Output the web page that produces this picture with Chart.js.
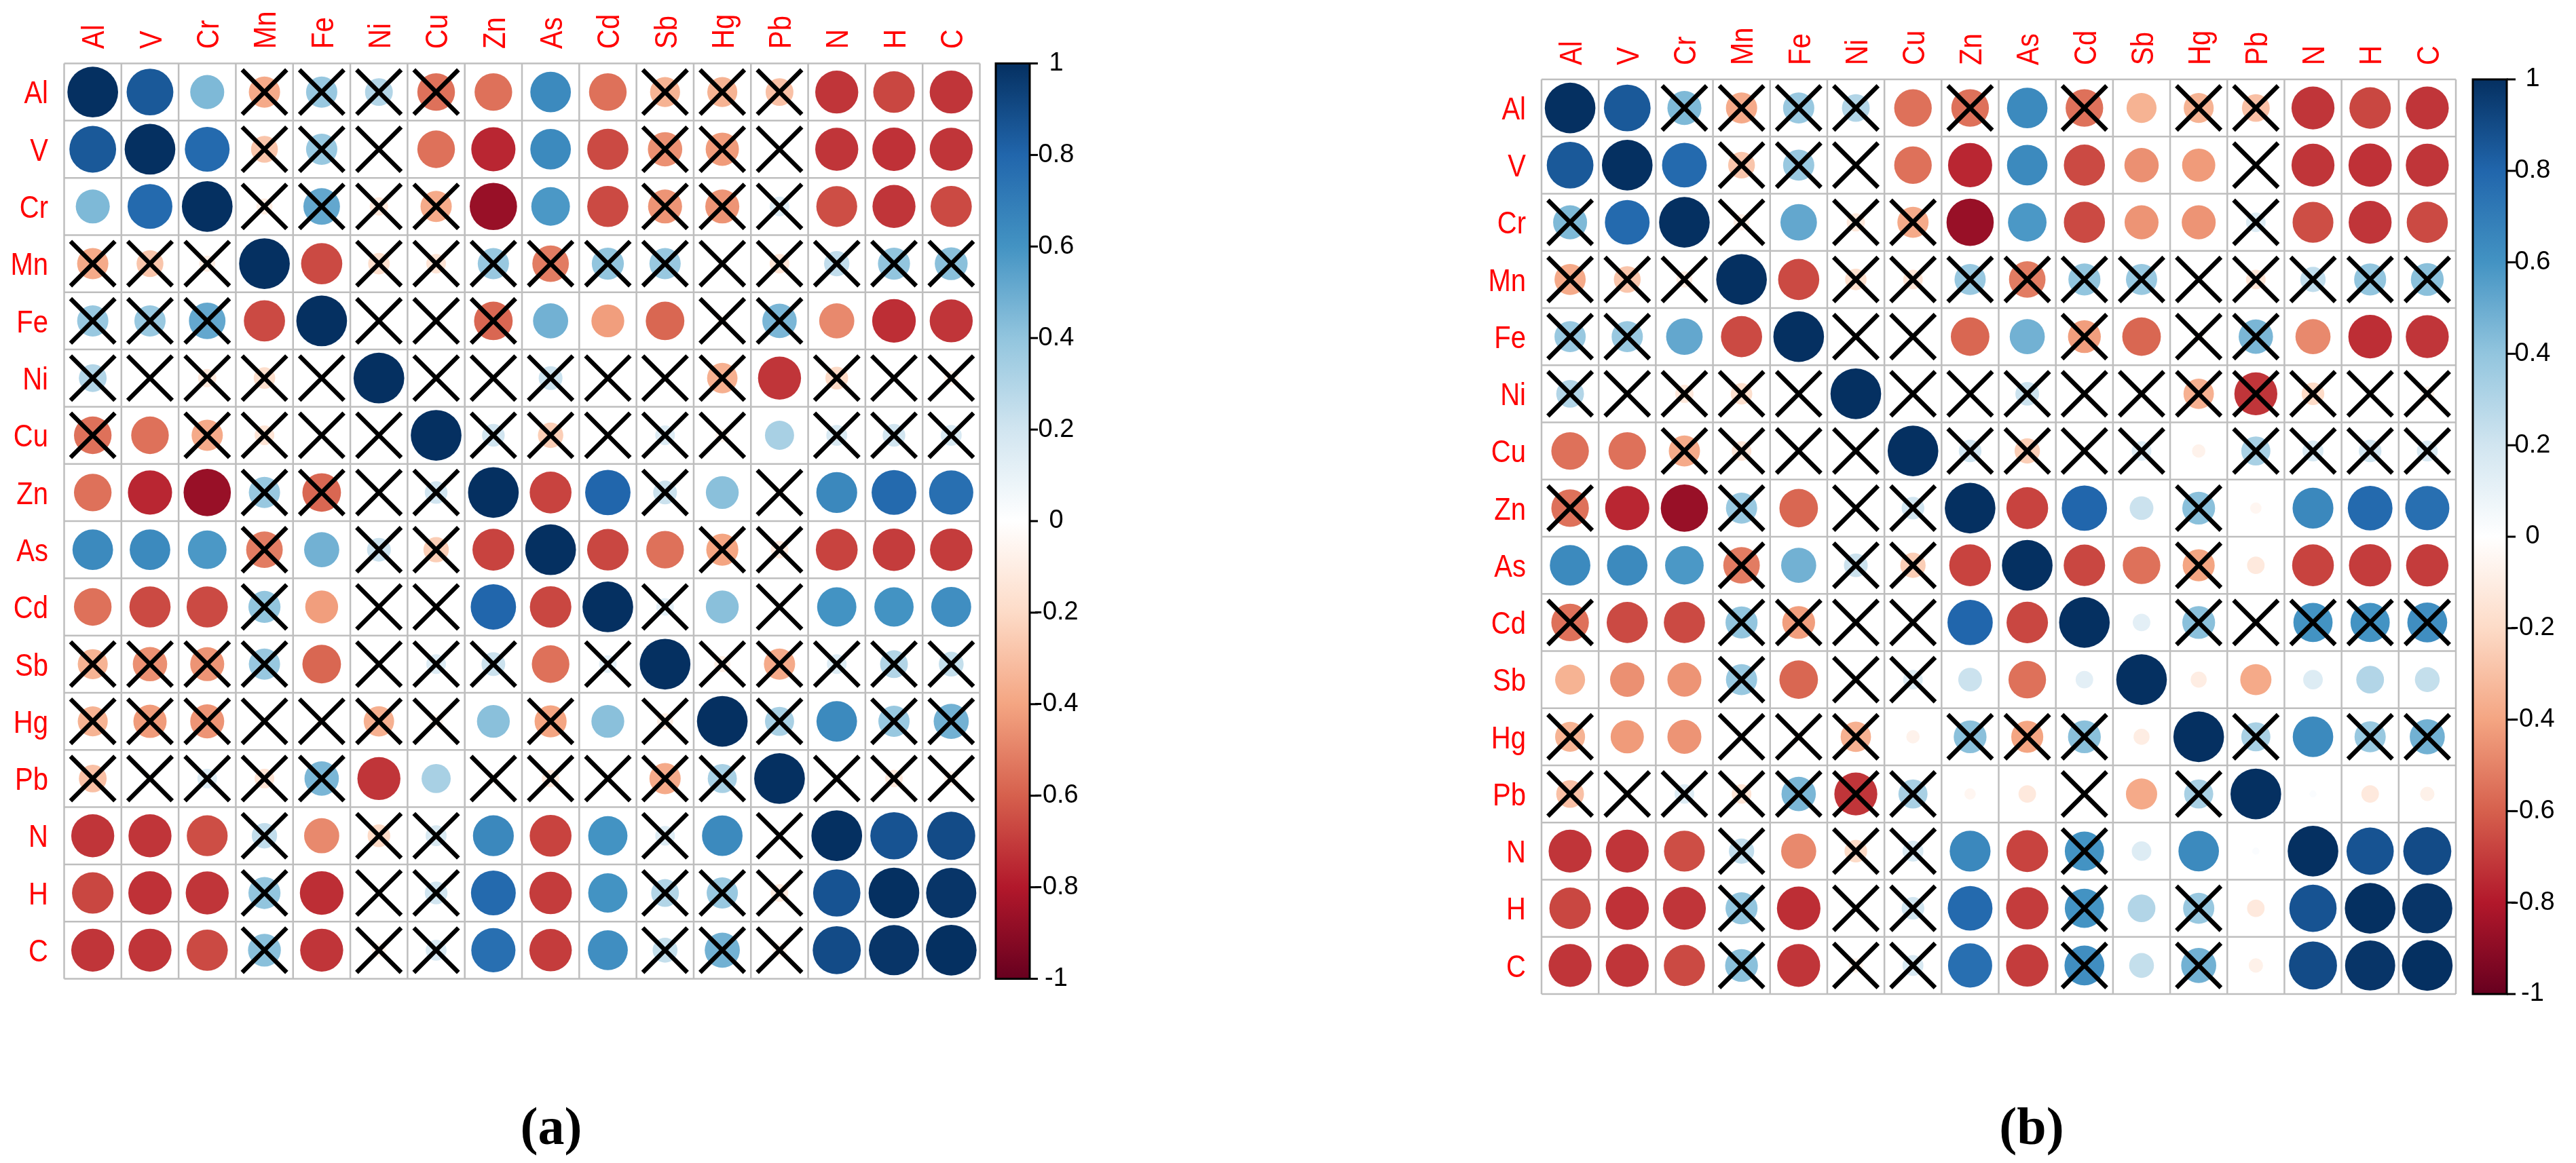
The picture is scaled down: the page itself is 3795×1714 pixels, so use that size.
<!DOCTYPE html>
<html><head><meta charset="utf-8">
<script src="https://cdn.jsdelivr.net/npm/chart.js@4/dist/chart.umd.min.js"></script>
<style>
html,body{margin:0;padding:0;background:#fff;}
#wrap{position:relative;width:3795px;height:1714px;overflow:hidden;background:#fff;}
canvas{position:absolute;left:0;top:0;}
</style></head><body>
<div id="wrap"><canvas id="ca" width="3795" height="1714"></canvas><canvas id="cb" width="3795" height="1714"></canvas></div>
<script>
// ---------- DATA ----------
const elements = ["Al","V","Cr","Mn","Fe","Ni","Cu","Zn","As","Cd","Sb","Hg","Pb","N","H","C"];
// upper-triangle correlation values, each row lists the columns after the diagonal
const rAl = [0.85, 0.45, -0.38, 0.38, 0.30, -0.55, -0.55, 0.64, -0.55, -0.35, -0.35, -0.30, -0.72, -0.67, -0.72];
const rV  = [0.78, -0.28, 0.38, 0.01, -0.55, -0.76, 0.64, -0.66, -0.46, -0.43, -0.03, -0.72, -0.73, -0.72];
const rCr = [-0.10, 0.52, -0.13, -0.38, -0.87, 0.58, -0.66, -0.45, -0.45, 0.15, -0.65, -0.72, -0.66];
const rMn = [-0.66, -0.18, -0.15, 0.38, -0.52, 0.40, 0.38, 0.01, -0.15, 0.25, 0.40, 0.42];
const rFe = [-0.02, -0.01, -0.58, 0.48, -0.42, -0.58, -0.05, 0.46, -0.48, -0.74, -0.72];
const rNi = [0.00, 0.00, 0.22, 0.00, 0.00, -0.36, -0.72, -0.20, 0.00, -0.08];
const rCu = [0.20, -0.25, 0.00, 0.15, -0.07, 0.33, 0.17, 0.20, 0.17];
const rZn = [-0.68, 0.80, 0.22, 0.42, -0.05, 0.65, 0.78, 0.76];
const rAs = [-0.67, -0.55, -0.40, -0.12, -0.68, -0.70, -0.70];
const rCd = [0.12, 0.42, 0.00, 0.60, 0.60, 0.62];
const rSb = [-0.10, -0.38, 0.15, 0.30, 0.24];
const rHg = [0.33, 0.64, 0.38, 0.48];
const rPb = [0.02, -0.12, -0.08];
const rN  = [0.87, 0.90];
const rH  = [0.98];
const upperRows = [rAl, rV, rCr, rMn, rFe, rNi, rCu, rZn, rAs, rCd, rSb, rHg, rPb, rN, rH, []];
// non-significant marks ('x'), upper triangle, panel (a)
const crossA = ["..xxxx...xxx...", ".xxx....xxx...", "xxxx...xxx...", ".xxxxxxxxxxx", "xxx...xx...",
  "xxxxxx.xxx", "xxxxx.xxx", "..x.x...", "..xx...", "x.x...", "xxxxx", "x.xx", "xxx", "..", ".", ""];
// panel (b)
const crossB = [".xxxx.x.x.xx...", ".xxx......x...", "x.xx.....x...", ".xxxxxxxxxxx", "xx..x.xx...",
  "xxxxxxxxxx", "xxxx.xxxx", "...x....", "..x....", ".xxxxx", ".....", "x.xx", "...", "..", ".", ""];
const legendValues = [1, 0.8, 0.6, 0.4, 0.2, 0, -0.2, -0.4, -0.6, -0.8, -1];
const legendLabels = ["1", "0.8", "0.6", "0.4", "0.2", "0", "-0.2", "-0.4", "-0.6", "-0.8", "-1"];
const panelTitles = ["(a)", "(b)"];
const paletteStops = ["#67001F","#B2182B","#D6604D","#F4A582","#FDDBC7","#FFFFFF","#D1E5F0","#92C5DE","#4393C3","#2166AC","#053061"];

// ---------- helpers ----------
const W = 3795, H = 1714;
function valueAt(i, j) { if (i === j) return 1; const a = Math.min(i, j), b = Math.max(i, j); return upperRows[a][b - a - 1]; }
function crossedAt(mask, i, j) { if (i === j) return false; const a = Math.min(i, j), b = Math.max(i, j); return mask[a][b - a - 1] === 'x'; }
function hexRgb(h) { return [parseInt(h.slice(1,3),16), parseInt(h.slice(3,5),16), parseInt(h.slice(5,7),16)]; }
const stopRgb = paletteStops.map(hexRgb);
function corrColor(v) {
  const t = (Math.max(-1, Math.min(1, v)) + 1) / 2 * 10;
  const k = Math.min(9, Math.floor(t)), f = t - k;
  const a = stopRgb[k], b = stopRgb[k + 1];
  return 'rgb(' + a.map((c, n) => Math.round(c + (b[n] - c) * f)).join(',') + ')';
}
function cellSize(chart) { const s = chart.scales.x; return Math.abs(s.getPixelForValue(1) - s.getPixelForValue(0)); }

const labelFont = 40, labelStretch = 1.17;

const panelPlugin = {
  id: 'panelPlugin',
  beforeDatasetsDraw(chart) {
    const { ctx, scales: { x, y } } = chart;
    ctx.save();
    ctx.strokeStyle = '#BEBEBE';
    ctx.lineWidth = 2.5;
    const x0 = x.getPixelForValue(-0.5), x1 = x.getPixelForValue(elements.length - 0.5);
    const y0 = y.getPixelForValue(-0.5), y1 = y.getPixelForValue(elements.length - 0.5);
    ctx.beginPath();
    for (let k = 0; k <= elements.length; k++) {
      const px = x.getPixelForValue(k - 0.5), py = y.getPixelForValue(k - 0.5);
      ctx.moveTo(px, y0); ctx.lineTo(px, y1);
      ctx.moveTo(x0, py); ctx.lineTo(x1, py);
    }
    ctx.stroke();
    ctx.restore();
  },
  afterDraw(chart) {
    const g = chart.options.plugins.panelPlugin;
    const { ctx, scales: { x, y, cbar } } = chart;
    ctx.save();
    ctx.fillStyle = '#FF0000';
    ctx.font = labelFont + 'px "Liberation Sans", Arial, sans-serif';
    const capOff = 0.358 * labelFont * labelStretch;
    elements.forEach((lab, i) => {
      const py = y.getPixelForValue(i);
      ctx.save();
      ctx.translate(g.rowLabelRight, py + capOff);
      ctx.scale(1, labelStretch);
      ctx.textAlign = 'right'; ctx.textBaseline = 'alphabetic';
      ctx.fillText(lab, 0, 0);
      ctx.restore();
    });
    elements.forEach((lab, j) => {
      const px = x.getPixelForValue(j);
      ctx.save();
      ctx.translate(px + capOff, g.colLabelBottom);
      ctx.rotate(-Math.PI / 2);
      ctx.scale(1, labelStretch);
      ctx.textAlign = 'left'; ctx.textBaseline = 'alphabetic';
      ctx.fillText(lab, 0, 0);
      ctx.restore();
    });
    const yt = cbar.getPixelForValue(1), yb = cbar.getPixelForValue(-1);
    const grad = ctx.createLinearGradient(0, yb, 0, yt);
    paletteStops.forEach((c, k) => grad.addColorStop(k / 10, c));
    ctx.fillStyle = grad;
    ctx.fillRect(g.barL, yt, g.barR - g.barL, yb - yt);
    ctx.strokeStyle = '#000';
    ctx.lineWidth = 3;
    ctx.strokeRect(g.barL, yt, g.barR - g.barL, yb - yt);
    ctx.fillStyle = '#000';
    ctx.font = '38px "Liberation Sans", Arial, sans-serif';
    ctx.textAlign = 'center'; ctx.textBaseline = 'middle';
    legendValues.forEach((v, k) => {
      const py = cbar.getPixelForValue(v);
      ctx.beginPath(); ctx.moveTo(g.barR, py); ctx.lineTo(g.tickR, py); ctx.stroke();
      ctx.fillText(legendLabels[k], g.labelX, py);
    });
    ctx.font = 'bold 78px "Liberation Serif", "Times New Roman", serif';
    ctx.textAlign = 'center'; ctx.textBaseline = 'alphabetic';
    ctx.fillText(g.title, g.titleX, g.titleY);
    ctx.restore();
  }
};

function makePanel(id, mask, g) {
  const circles = [], crosses = [];
  for (let i = 0; i < elements.length; i++) {
    for (let j = 0; j < elements.length; j++) {
      circles.push({ x: j, y: i, v: valueAt(i, j) });
      if (crossedAt(mask, i, j)) crosses.push({ x: j, y: i });
    }
  }
  return new Chart(document.getElementById(id), {
    type: 'scatter',
    data: {
      datasets: [
        { label: 'n.s.', order: 0, data: crosses, pointStyle: 'crossRot',
          pointRadius: c => cellSize(c.chart) * 0.55, pointHoverRadius: c => cellSize(c.chart) * 0.55,
          pointBorderColor: '#000', pointBackgroundColor: 'rgba(0,0,0,0)', pointBorderWidth: 6.5, pointHoverBorderWidth: 6.5 },
        { label: 'r', order: 1, data: circles, pointStyle: 'circle',
          pointRadius: c => cellSize(c.chart) * 0.443 * Math.sqrt(Math.abs(c.raw.v)),
          pointHoverRadius: c => cellSize(c.chart) * 0.443 * Math.sqrt(Math.abs(c.raw.v)),
          pointBackgroundColor: c => corrColor(c.raw.v), pointHoverBackgroundColor: c => corrColor(c.raw.v),
          pointBorderWidth: 0, pointHoverBorderWidth: 0 }
      ]
    },
    options: {
      responsive: false, devicePixelRatio: 1, animation: false, events: [],
      layout: { padding: { left: g.left, top: g.top, right: W - g.right, bottom: H - g.bottom } },
      scales: {
        x: { type: 'linear', min: -0.5, max: elements.length - 0.5, display: false },
        y: { type: 'linear', min: -0.5, max: elements.length - 0.5, reverse: true, display: false },
        cbar: { type: 'linear', axis: 'y', min: -1, max: 1, display: false }
      },
      plugins: { legend: { display: false }, tooltip: { enabled: false }, panelPlugin: g }
    },
    plugins: [panelPlugin]
  });
}

makePanel('ca', crossA, { left: 94.5, top: 93.5, right: 1443.5, bottom: 1442.5, rowLabelRight: 71, colLabelBottom: 72,
  barL: 1467, barR: 1517, tickR: 1529, labelX: 1556, title: panelTitles[0], titleX: 812, titleY: 1686 });
makePanel('cb', crossB, { left: 2271, top: 117, right: 3618, bottom: 1465, rowLabelRight: 2248, colLabelBottom: 96,
  barL: 3643, barR: 3693, tickR: 3706, labelX: 3731, title: panelTitles[1], titleX: 2993, titleY: 1686 });
</script>
</body></html>
